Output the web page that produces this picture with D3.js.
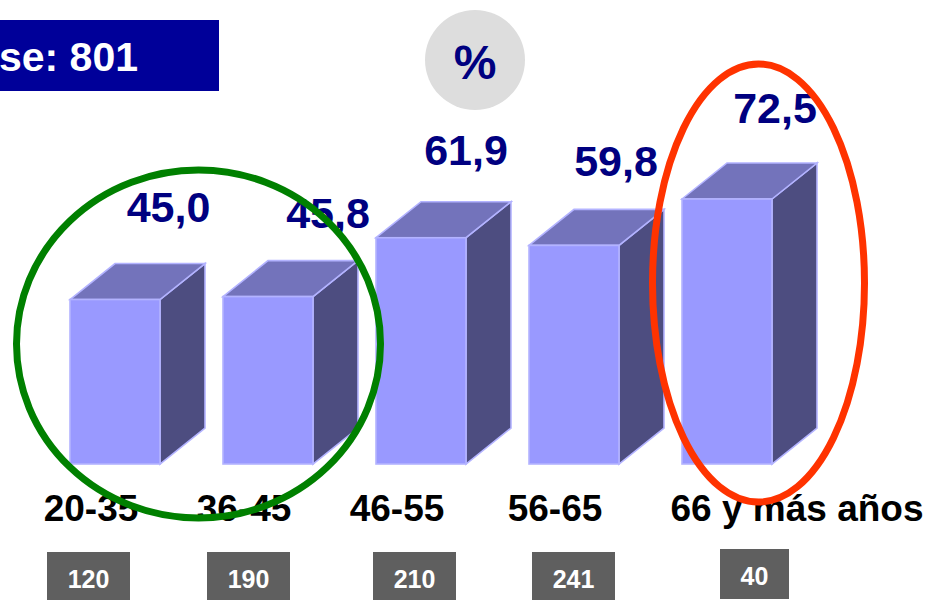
<!DOCTYPE html>
<html>
<head>
<meta charset="utf-8">
<script src="https://cdn.jsdelivr.net/npm/d3@7"></script>
<style>
  html, body { margin: 0; padding: 0; background: #fff; overflow: hidden; }
  text { font-family: "Liberation Sans", Arial, sans-serif; font-weight: bold; }
</style>
</head>
<body>
<div id="chart"></div>
<script>
const categories = ["20-35", "36-45", "46-55", "56-65", "66 y más años"];
const values = [45.0, 45.8, 61.9, 59.8, 72.5];
const valueLabels = ["45,0", "45,8", "61,9", "59,8", "72,5"];
const counts = ["120", "190", "210", "241", "40"];
const baseLabel = "se: 801";
const unitLabel = "%";

const width = 928, height = 600;
const svg = d3.select("#chart").append("svg")
    .attr("width", width)
    .attr("height", height);

// baseline sits at 464
const y = d3.scaleLinear().domain([0, 72.5]).range([464, 199]);
const x = d3.scalePoint().domain(categories).range([70, 682]);
const barW = 90, depthX = 45, depthY = 36;

// base box, cut off by the left edge
svg.append("rect").attr("x", 0).attr("y", 20).attr("width", 219).attr("height", 71).attr("fill", "#000099");
svg.append("text").attr("x", 138).attr("y", 71).attr("text-anchor", "end")
    .attr("font-size", 41).attr("fill", "#fff").text(baseLabel);

// percent badge
svg.append("circle").attr("cx", 475).attr("cy", 60).attr("r", 50).attr("fill", "#dddddd");
svg.append("text").attr("x", 475).attr("y", 79).attr("text-anchor", "middle")
    .attr("font-size", 48).attr("fill", "#000080").text(unitLabel);

// bars
const bar = svg.selectAll(".bar")
    .data(values)
    .enter().append("g")
    .attr("class", "bar");

const edge = "#b3b3ff";

bar.append("path")
    .attr("d", (d, i) => {
        const x0 = x(categories[i]) + barW, t = y(d), b = y(0);
        return `M${x0},${t}l${depthX},${-depthY}L${x0 + depthX},${b - depthY}L${x0},${b}Z`;
    })
    .attr("fill", "#4d4d80").attr("stroke", edge).attr("stroke-width", 1.6);

bar.append("path")
    .attr("d", (d, i) => {
        const x0 = x(categories[i]), t = y(d);
        return `M${x0},${t}l${depthX},${-depthY}h${barW}l${-depthX},${depthY}Z`;
    })
    .attr("fill", "#7373bb").attr("stroke", edge).attr("stroke-width", 1.6);

bar.append("rect")
    .attr("x", (d, i) => x(categories[i]))
    .attr("y", d => y(d))
    .attr("width", barW)
    .attr("height", d => y(0) - y(d))
    .attr("fill", "#9999ff").attr("stroke", edge).attr("stroke-width", 1.6);

// value labels
const labelX = [168.5, 328, 466, 616, 775];
const labelY = [222, 228, 165, 176, 123];
svg.selectAll(".val")
    .data(valueLabels)
    .enter().append("text")
    .attr("class", "val")
    .attr("x", (d, i) => labelX[i])
    .attr("y", (d, i) => labelY[i])
    .attr("text-anchor", "middle")
    .attr("font-size", 43)
    .attr("fill", "#000080")
    .text(d => d);

// category labels
const catX = [91, 244, 397, 555, 797];
svg.selectAll(".cat")
    .data(categories)
    .enter().append("text")
    .attr("class", "cat")
    .attr("x", (d, i) => catX[i])
    .attr("y", 521)
    .attr("text-anchor", "middle")
    .attr("font-size", 37)
    .attr("fill", "#000")
    .text(d => d);

// sample size boxes
const boxX = [47, 207, 373, 532, 720];
const boxW = [83, 83, 83, 83, 69];
const boxY = [552, 552, 552, 552, 549];
const boxes = svg.selectAll(".count")
    .data(counts)
    .enter().append("g")
    .attr("class", "count");
boxes.append("rect")
    .attr("x", (d, i) => boxX[i]).attr("y", (d, i) => boxY[i])
    .attr("width", (d, i) => boxW[i]).attr("height", 50)
    .attr("fill", "#5f5f5f");
boxes.append("text")
    .attr("x", (d, i) => boxX[i] + boxW[i] / 2)
    .attr("y", (d, i) => boxY[i] + 36)
    .attr("text-anchor", "middle")
    .attr("font-size", 25)
    .attr("fill", "#fff")
    .text(d => d);

// highlight ellipses
svg.append("ellipse").attr("cx", 198.5).attr("cy", 344).attr("rx", 182).attr("ry", 174)
    .attr("fill", "none").attr("stroke", "#008000").attr("stroke-width", 7);
svg.append("ellipse").attr("cx", 758.5).attr("cy", 283).attr("rx", 106).attr("ry", 219)
    .attr("fill", "none").attr("stroke", "#ff3300").attr("stroke-width", 7);
</script>
</body>
</html>
